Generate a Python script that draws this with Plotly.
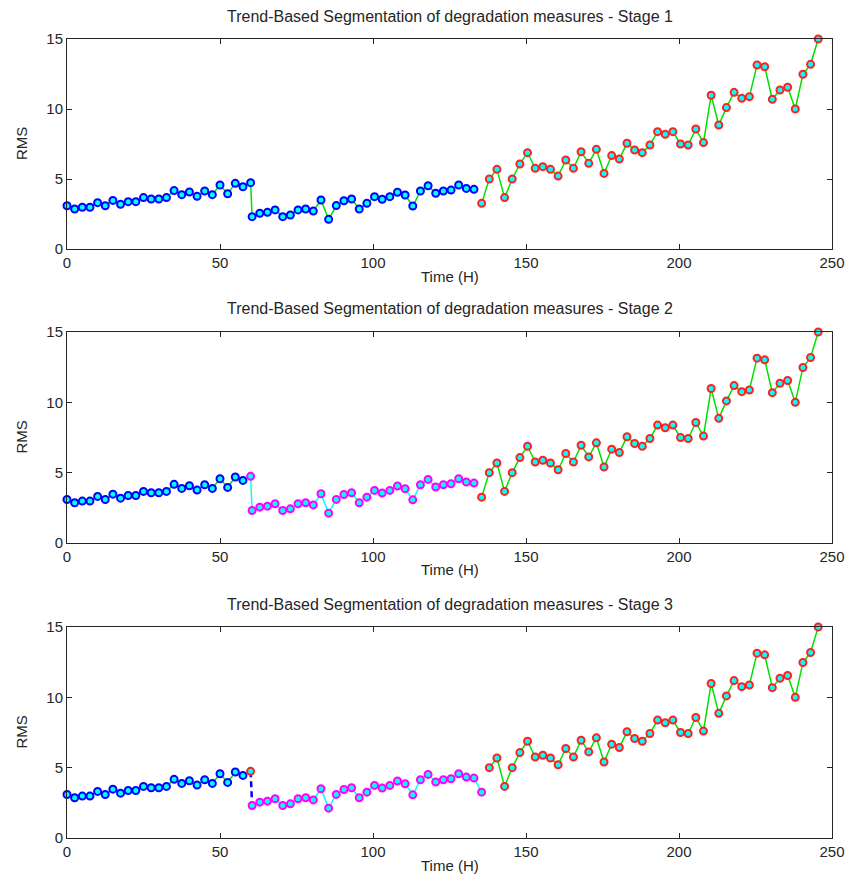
import plotly.graph_objects as go

# ---- data ----
t_seg1 = [i * 2.5 for i in range(25)]                # 0 .. 60
t_rest = [60.5 + i * 2.5 for i in range(75)]         # 60.5 .. 245.5
rms_seg1 = [3.09, 2.86, 2.98, 2.98, 3.31, 3.09, 3.47, 3.19, 3.38, 3.38,
            3.67, 3.57, 3.57, 3.67, 4.17, 3.88, 4.07, 3.76, 4.14, 3.88,
            4.57, 3.95, 4.69, 4.45, 4.74]
rms_seg2 = [2.31, 2.55, 2.62, 2.79, 2.31, 2.43, 2.79, 2.86, 2.71, 3.50,
            2.12, 3.10, 3.45, 3.57, 2.86, 3.26, 3.74, 3.55, 3.74, 4.05,
            3.86, 3.07, 4.14, 4.52, 3.98, 4.14, 4.21, 4.57, 4.33, 4.26]
rms_seg3 = [3.26, 5.00, 5.69, 3.67, 5.00, 6.07, 6.88, 5.76, 5.88, 5.69,
            5.21, 6.36, 5.76, 6.95, 6.12, 7.12, 5.40, 6.67, 6.43, 7.55,
            7.07, 6.88, 7.43, 8.38, 8.19, 8.38, 7.50, 7.43, 8.57, 7.60,
            10.98, 8.86, 10.10, 11.19, 10.76, 10.88, 13.14, 13.02, 10.69, 11.36,
            11.55, 10.00, 12.48, 13.19, 15.00]
titles = ["Trend-Based Segmentation of degradation measures - Stage 1",
          "Trend-Based Segmentation of degradation measures - Stage 2",
          "Trend-Based Segmentation of degradation measures - Stage 3"]
x_ticks = [0, 50, 100, 150, 200, 250]
y_ticks = [0, 5, 10, 15]

T = t_seg1 + t_rest
Y = rms_seg1 + rms_seg2 + rms_seg3
n1 = len(rms_seg1)
n2 = len(rms_seg2)

BLUE, CYAN, RED, MAG, GREEN = "#0000FF", "#00FFFF", "#FF2020", "#FF00FF", "#00E000"

W, H = 861, 887
ML, MR, MT, MB = 67, 29, 39, 49
PH = H - MT - MB

def py(p):  # pixel y -> paper
    return (H - MB - p) / PH

def px(p):
    return (p - ML) / (W - ML - MR)

panels = [(39, 249), (332, 543), (627, 838)]

fig = go.Figure()

def add_line(row, i0, i1, color, dash="solid", width=1.5):
    fig.add_trace(go.Scatter(x=T[i0:i1], y=Y[i0:i1], mode="lines",
                             line=dict(color=color, width=width, dash=dash),
                             xaxis=f"x{row}" if row > 1 else "x",
                             yaxis=f"y{row}" if row > 1 else "y",
                             showlegend=False, hoverinfo="skip", cliponaxis=False))

def add_mk(row, i0, i1, edge):
    fig.add_trace(go.Scatter(x=T[i0:i1], y=Y[i0:i1], mode="markers",
                             marker=dict(symbol="circle", size=7, color=CYAN,
                                         line=dict(color=edge, width=2)),
                             xaxis=f"x{row}" if row > 1 else "x",
                             yaxis=f"y{row}" if row > 1 else "y",
                             showlegend=False, cliponaxis=False))

N = len(Y)
b1 = n1          # index of first point at 60.5
b2 = n1 + n2     # index of point at 135.5

# Stage 1
add_line(1, 0, b2, GREEN)
add_line(1, b2, N, GREEN)
add_mk(1, 0, b2, BLUE)
add_mk(1, b2, N, RED)

# Stage 2
add_line(2, 0, n1 - 1, GREEN)
add_line(2, n1 - 1, b2, CYAN)
add_line(2, b2, N, GREEN)
add_mk(2, 0, n1 - 1, BLUE)
add_mk(2, n1 - 1, b2, MAG)
add_mk(2, b2, N, RED)

# Stage 3
add_line(3, 0, n1 - 1, GREEN)
add_line(3, b1, b2 + 1, CYAN)
add_line(3, b2 + 1, N, GREEN)
add_line(3, n1 - 1, b1 + 1, BLUE, dash="6px,4px", width=2.5)
add_mk(3, 0, n1 - 1, BLUE)
add_mk(3, b1, b2 + 1, MAG)
add_mk(3, b2 + 1, N, RED)
add_mk(3, n1 - 1, n1, RED)

FONT = "Liberation Sans, Arial, sans-serif"
TXT = "#262626"
axis_common = dict(showgrid=False, zeroline=False, showline=True, linecolor="#262626",
                   linewidth=1, mirror="ticks", ticks="inside", ticklen=5,
                   tickcolor="#262626", tickfont=dict(family=FONT, size=15, color=TXT))

layout = dict(width=W, height=H, margin=dict(l=ML, r=MR, t=MT, b=MB),
              paper_bgcolor="white", plot_bgcolor="white", showlegend=False)
annotations = []
for k, (top, bot) in enumerate(panels, start=1):
    sfx = "" if k == 1 else str(k)
    layout[f"xaxis{sfx}"] = dict(axis_common, range=[0, 250], tickvals=x_ticks,
                                 anchor=f"y{sfx}", domain=[0, 1])
    layout[f"yaxis{sfx}"] = dict(axis_common, range=[0, 15], tickvals=y_ticks,
                                 anchor=f"x{sfx}", domain=[py(bot), py(top)])
    annotations.append(dict(text=titles[k - 1], xref="paper", yref="paper",
                            x=0.5, y=py(top - 23), xanchor="center", yanchor="middle",
                            showarrow=False, font=dict(family=FONT, size=16, color=TXT)))
    annotations.append(dict(text="Time (H)", xref="paper", yref="paper",
                            x=0.5, y=py(bot + 27), xanchor="center", yanchor="middle",
                            showarrow=False, font=dict(family=FONT, size=15, color=TXT)))
    annotations.append(dict(text="RMS", xref="paper", yref="paper", textangle=-90,
                            x=px(21), y=py((top + bot) / 2), xanchor="center",
                            yanchor="middle", showarrow=False,
                            font=dict(family=FONT, size=15, color=TXT)))
layout["annotations"] = annotations
fig.update_layout(**layout)

fig.write_html("out.html")
